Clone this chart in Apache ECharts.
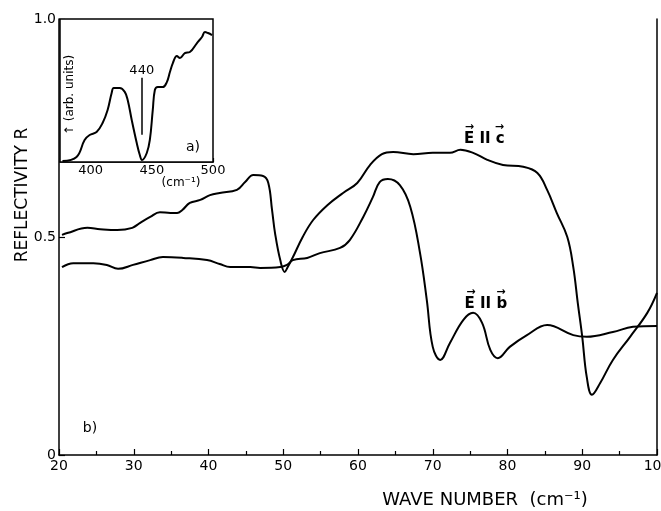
<!DOCTYPE html>
<html>
<head>
<meta charset="utf-8">
<script src="https://cdn.jsdelivr.net/npm/echarts@6/dist/echarts.min.js"></script>
<style>
  html, body { margin: 0; padding: 0; background: #fff; }
  #chart { width: 661px; height: 511px; }
</style>
</head>
<body>
<div id="chart"></div>
<script>
// main plot b): reflectivity vs wave number (cm-1)
var cWave = [20.4, 21.1, 23.8, 25.5, 27.8, 29.8, 30.8, 32.2, 33.5, 34.9, 35.8, 36.5, 37.5, 38.9, 40.2, 41.5, 43.8, 44.9, 46.0, 47.3, 48.0, 48.5, 48.9, 49.6, 50.2, 50.6, 51.3, 52.6, 54.0, 55.9, 58.0, 59.9, 61.6, 63.2, 64.7, 67.4, 70.0, 72.3, 73.7, 75.4, 77.3, 79.4, 82.1, 84.0, 85.3, 86.6, 88.0, 88.8, 89.4, 90.0, 90.6, 91.3, 92.4, 94.1, 96.4, 98.7, 100];
var cRefl = [0.505, 0.509, 0.521, 0.518, 0.516, 0.521, 0.532, 0.546, 0.557, 0.555, 0.555, 0.562, 0.578, 0.585, 0.596, 0.601, 0.608, 0.626, 0.642, 0.640, 0.624, 0.562, 0.509, 0.447, 0.420, 0.431, 0.454, 0.500, 0.539, 0.573, 0.601, 0.624, 0.665, 0.690, 0.695, 0.690, 0.693, 0.693, 0.700, 0.693, 0.677, 0.665, 0.661, 0.647, 0.608, 0.555, 0.500, 0.431, 0.349, 0.271, 0.179, 0.138, 0.165, 0.218, 0.271, 0.326, 0.372];

var bWave = [20.4, 21.9, 24.6, 26.4, 27.9, 29.9, 32.2, 33.9, 36.6, 39.8, 41.5, 42.9, 45.6, 46.9, 49.6, 50.5, 51.3, 53.2, 54.9, 57.6, 58.9, 60.7, 62.0, 62.9, 64.0, 65.6, 67.0, 68.3, 69.2, 70.0, 71.0, 72.3, 74.1, 75.4, 76.6, 77.7, 78.7, 80.3, 82.6, 85.3, 88.8, 90.6, 94.1, 96.8, 100];
var bRefl = [0.431, 0.440, 0.440, 0.436, 0.427, 0.436, 0.447, 0.454, 0.452, 0.447, 0.438, 0.431, 0.431, 0.429, 0.431, 0.436, 0.447, 0.452, 0.463, 0.475, 0.493, 0.546, 0.592, 0.626, 0.633, 0.619, 0.569, 0.463, 0.356, 0.248, 0.218, 0.257, 0.310, 0.326, 0.303, 0.241, 0.222, 0.248, 0.275, 0.298, 0.275, 0.271, 0.282, 0.294, 0.296];

// inset a): transmission (arb. units) vs wave number
var insetWave = [377.0, 388.5, 395.1, 399.2, 404.9, 409.8, 413.9, 417.2, 418.9, 423.8, 427.9, 430.3, 433.6, 437.7, 440.2, 442.0, 445.9, 448.4, 450.8, 452.5, 454.9, 459.0, 462.3, 464.8, 467.2, 470.5, 473.0, 477.0, 481.1, 486.9, 491.0, 493.4, 495.9, 499.2];
var insetT = [0.007, 0.035, 0.154, 0.189, 0.210, 0.273, 0.364, 0.483, 0.517, 0.517, 0.490, 0.434, 0.294, 0.133, 0.049, 0.014, 0.063, 0.154, 0.364, 0.503, 0.524, 0.524, 0.559, 0.629, 0.692, 0.741, 0.727, 0.762, 0.769, 0.832, 0.874, 0.909, 0.902, 0.888];

var mainXTicks = ['20', '30', '40', '50', '60', '70', '80', '90', '100'];
var insetXTicks = ['400', '450', '500'];

function pairs(xs, ys) {
  return xs.map(function (x, i) { return [x, ys[i]]; });
}

var font = 'DejaVu Sans';
var chart = echarts.init(document.getElementById('chart'));

// "E || c" style label with vector arrows above first and last letter
function vecLabel(letter) {
  return {
    show: true, position: 'inside', color: '#000', fontFamily: font, lineHeight: 9,
    formatter: '{ar|\u2192}{sp|}{ar|\u2192}\n{t|E II ' + letter + '}',
    rich: {
      ar: { fontSize: 11, fontWeight: 'bold', width: 10, align: 'center', lineHeight: 8 },
      sp: { width: 20 },
      t: { fontSize: 15, fontWeight: 'bold', lineHeight: 16 }
    }
  };
}

function labelAt(letter, coord) {
  return {
    symbol: 'rect', symbolSize: 1,
    itemStyle: { color: 'rgba(0,0,0,0)' },
    label: vecLabel(letter),
    data: [{ coord: coord }]
  };
}

var option = {
  backgroundColor: '#fff',
  animation: false,
  textStyle: { fontFamily: font, color: '#000' },
  grid: [
    { left: 59, right: 4, top: 19, bottom: 56, outerBoundsMode: 'none', containLabel: false },
    { left: 60, top: 19, width: 153, height: 143, outerBoundsMode: 'none', containLabel: false,
      show: true, borderColor: '#000', borderWidth: 1.5, backgroundColor: '#fff', z: 5 }
  ],
  xAxis: [
    {
      type: 'value', gridIndex: 0, min: 20, max: 100, interval: 10,
      axisLine: { show: true, lineStyle: { color: '#000', width: 1.5 } },
      axisTick: { show: true, inside: true, length: 6, lineStyle: { color: '#000', width: 1.2 } },
      minorTick: { show: true, splitNumber: 2, length: 4, lineStyle: { color: '#000', width: 1.2 } },
      splitLine: { show: false },
      axisLabel: {
        color: '#000', fontSize: 14, margin: 4, fontFamily: font,
        formatter: function (v) { return mainXTicks.indexOf(String(v)) >= 0 ? String(v) : ''; }
      }
    },
    {
      type: 'value', gridIndex: 1, min: 375, max: 500, interval: 25,
      axisLine: { show: true, lineStyle: { color: '#000', width: 1.5 } },
      axisTick: { show: true, inside: true, length: 4, lineStyle: { color: '#000', width: 1.2 } },
      splitLine: { show: false },
      axisLabel: {
        color: '#000', fontSize: 13, margin: 2, fontFamily: font,
        formatter: function (v) { return insetXTicks.indexOf(String(v)) >= 0 ? String(v) : ''; }
      }
    }
  ],
  yAxis: [
    {
      type: 'value', gridIndex: 0, min: 0, max: 1, interval: 0.5,
      axisLine: { show: true, lineStyle: { color: '#000', width: 1.5 } },
      axisTick: { show: true, inside: true, length: 6, lineStyle: { color: '#000', width: 1.2 } },
      splitLine: { show: false },
      axisLabel: {
        color: '#000', fontSize: 14, margin: 3, fontFamily: font,
        formatter: function (v) { return v === 0 ? '0' : v.toFixed(1); }
      }
    },
    {
      type: 'value', gridIndex: 0, min: 0, max: 1, position: 'right',
      axisLine: { show: true, lineStyle: { color: '#000', width: 1.5 } },
      axisTick: { show: false }, axisLabel: { show: false }, splitLine: { show: false }
    },
    {
      type: 'value', gridIndex: 1, min: 0, max: 1,
      axisLine: { show: false }, axisTick: { show: false },
      axisLabel: { show: false }, splitLine: { show: false }
    }
  ],
  series: [
    {
      name: 'E||c', type: 'line', xAxisIndex: 0, yAxisIndex: 0,
      data: pairs(cWave, cRefl), smooth: 0.4, showSymbol: false,
      lineStyle: { color: '#000', width: 2 },
      markPoint: labelAt('c', [76.9, 0.734])
    },
    {
      name: 'E||b', type: 'line', xAxisIndex: 0, yAxisIndex: 0,
      data: pairs(bWave, bRefl), smooth: 0.4, showSymbol: false,
      lineStyle: { color: '#000', width: 2 },
      markPoint: labelAt('b', [77.1, 0.356])
    },
    {
      name: 'inset', type: 'line', xAxisIndex: 1, yAxisIndex: 2, z: 6,
      data: pairs(insetWave, insetT), smooth: 0.4, showSymbol: false,
      lineStyle: { color: '#000', width: 2 },
      markLine: {
        symbol: 'none', silent: true,
        lineStyle: { color: '#000', width: 1.5, type: 'solid' },
        label: { show: true, position: 'end', formatter: '440', fontSize: 13, color: '#000', fontFamily: font, distance: 1 },
        data: [[{ coord: [441.8, 0.19] }, { coord: [441.8, 0.59] }]]
      }
    }
  ],
  graphic: [
    { type: 'text', x: 23, y: 195, rotation: Math.PI / 2, z: 10,
      style: { text: 'REFLECTIVITY R', fontSize: 17, fontFamily: font, fill: '#000', align: 'center', verticalAlign: 'middle' } },
    { type: 'text', x: 485, y: 500, z: 10,
      style: { text: 'WAVE NUMBER  (cm\u207B\u00B9)', fontSize: 18, fontFamily: font, fill: '#000', align: 'center', verticalAlign: 'middle' } },
    { type: 'text', x: 70, y: 95, rotation: Math.PI / 2, z: 10,
      style: { text: '\u2191 (arb. units)', fontSize: 12, fontFamily: font, fill: '#000', align: 'center', verticalAlign: 'middle' } },
    { type: 'text', x: 181, y: 183, z: 10,
      style: { text: '(cm\u207B\u00B9)', fontSize: 12, fontFamily: font, fill: '#000', align: 'center', verticalAlign: 'middle' } },
    { type: 'text', x: 193, y: 147, z: 10,
      style: { text: 'a)', fontSize: 14, fontFamily: font, fill: '#000', align: 'center', verticalAlign: 'middle' } },
    { type: 'text', x: 90, y: 428, z: 10,
      style: { text: 'b)', fontSize: 14, fontFamily: font, fill: '#000', align: 'center', verticalAlign: 'middle' } }
  ]
};

chart.setOption(option);
</script>
</body>
</html>
